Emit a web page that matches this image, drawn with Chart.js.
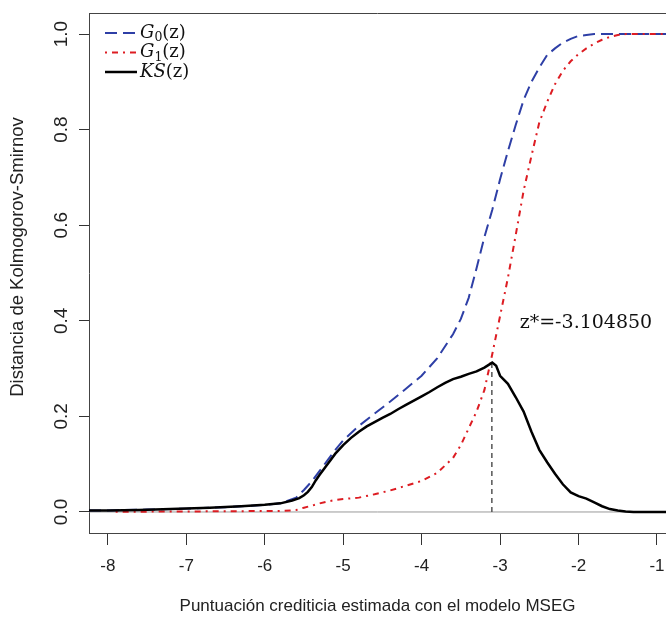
<!DOCTYPE html>
<html>
<head>
<meta charset="utf-8">
<script src="https://cdn.jsdelivr.net/npm/chart.js@4.4.1/dist/chart.umd.min.js"></script>
<style>
  html, body { margin: 0; padding: 0; background: #fff; }
</style>
</head>
<body>
<canvas id="ksChart" width="666" height="617"></canvas>
<script>
// G0(z): distribución acumulada de los buenos
const g0Z = [-8.24, -8.0, -7.5, -7.0, -6.5, -6.0, -5.8, -5.6, -5.5, -5.4, -5.3, -5.2, -5.1, -5.0,
  -4.8, -4.6, -4.4, -4.2, -4.0, -3.8, -3.6, -3.5, -3.4, -3.3, -3.2, -3.1, -3.0, -2.9, -2.8, -2.7,
  -2.6, -2.5, -2.4, -2.3, -2.2, -2.1, -2.0, -1.9, -1.8, -1.5, -1.0, -0.8];
const g0Vals = [0.003, 0.003, 0.005, 0.007, 0.010, 0.015, 0.018, 0.030, 0.046, 0.064, 0.086, 0.108, 0.130, 0.150,
  0.180, 0.206, 0.231, 0.258, 0.285, 0.322, 0.372, 0.404, 0.448, 0.510, 0.575, 0.632, 0.696, 0.755, 0.810, 0.862,
  0.900, 0.930, 0.956, 0.970, 0.982, 0.990, 0.996, 0.998, 1.0, 1.0, 1.0, 1.0];

// G1(z): distribución acumulada de los malos
const g1Z = [-7.9, -7.0, -6.0, -5.8, -5.6, -5.5, -5.4, -5.3, -5.2, -5.1, -5.0, -4.8, -4.6, -4.4, -4.2,
  -4.0, -3.8, -3.6, -3.5, -3.4, -3.3, -3.2, -3.1, -3.0, -2.9, -2.8, -2.7, -2.6, -2.5, -2.4, -2.3,
  -2.2, -2.1, -2.0, -1.9, -1.8, -1.7, -1.6, -1.5, -1.4, -1.0, -0.8];
const g1Vals = [0.0005, 0.001, 0.002, 0.002, 0.004, 0.009, 0.013, 0.018, 0.022, 0.025, 0.027, 0.030, 0.037, 0.045, 0.055,
  0.065, 0.082, 0.113, 0.140, 0.175, 0.210, 0.255, 0.330, 0.410, 0.490, 0.580, 0.672, 0.745, 0.815, 0.858, 0.895,
  0.923, 0.943, 0.958, 0.970, 0.980, 0.988, 0.994, 0.998, 1.0, 1.0, 1.0];

// KS(z) = |G0(z) - G1(z)|
const ksZ = [-8.24, -8.0, -7.6, -7.2, -6.7, -6.3, -6.0, -5.8, -5.65, -5.56, -5.5, -5.45, -5.4, -5.35, -5.3,
  -5.2, -5.1, -5.0, -4.9, -4.8, -4.7, -4.6, -4.5, -4.4, -4.3, -4.2, -4.1, -4.0, -3.9, -3.8, -3.7,
  -3.6, -3.5, -3.4, -3.3, -3.2, -3.1, -3.05, -3.0, -2.9, -2.8, -2.7, -2.6, -2.5, -2.4, -2.3, -2.2,
  -2.1, -2.0, -1.9, -1.8, -1.7, -1.6, -1.5, -1.4, -1.3, -0.8];
const ksVals = [0.003, 0.003, 0.004, 0.006, 0.009, 0.012, 0.015, 0.018, 0.024, 0.029, 0.035, 0.042, 0.052, 0.066, 0.078,
  0.100, 0.122, 0.140, 0.155, 0.168, 0.179, 0.188, 0.197, 0.205, 0.215, 0.224, 0.233, 0.242, 0.251, 0.261, 0.270,
  0.278, 0.283, 0.289, 0.294, 0.302, 0.3125, 0.306, 0.285, 0.268, 0.240, 0.210, 0.168, 0.130, 0.104, 0.080, 0.058,
  0.041, 0.033, 0.028, 0.020, 0.012, 0.006, 0.003, 0.001, 0.0, 0.0];

const zStar = -3.104850;
const ksMax = 0.3125;
const xTicks = [-8, -7, -6, -5, -4, -3, -2, -1];
const yTicks = [0, 0.2, 0.4, 0.6, 0.8, 1.0];
const xRange = [-8.24, -0.885];
const yRange = [-0.044, 1.044];
const yTitle = 'Distancia de Kolmogorov-Smirnov';

const toPts = (zs, vs) => zs.map((z, i) => ({ x: z, y: vs[i] }));

// leyenda, eje y rotado, texto z* y borde superior
const extras = {
  id: 'extras',
  afterDraw(chart) {
    const { ctx, chartArea: a, scales: { x, y } } = chart;
    ctx.save();
    ctx.strokeStyle = '#444';
    ctx.lineWidth = 1;
    ctx.beginPath();
    ctx.moveTo(a.left, a.top + 0.5);
    ctx.lineTo(a.right, a.top + 0.5);
    ctx.stroke();

    ctx.fillStyle = '#222';
    ctx.font = '19px "Liberation Sans"';
    ctx.textAlign = 'center';
    ctx.textBaseline = 'middle';
    y.ticks.forEach(t => {
      ctx.save();
      ctx.translate(a.left - 27, y.getPixelForValue(t.value));
      ctx.rotate(-Math.PI / 2);
      ctx.fillText(t.value.toFixed(1), 0, 0);
      ctx.restore();
    });

    // título del eje y
    ctx.save();
    ctx.font = '18.5px "Liberation Sans"';
    ctx.translate(18, (a.top + a.bottom) / 2 - 16);
    ctx.rotate(-Math.PI / 2);
    ctx.fillText(yTitle, 0, 0);
    ctx.restore();

    ctx.textAlign = 'left';
    ctx.font = '19px "DejaVu Serif"';
    ctx.fillStyle = '#111';
    ctx.fillText('z*=' + zStar.toFixed(6), x.getPixelForValue(-2.75), y.getPixelForValue(0.395));

    chart.data.datasets.slice(0, 3).forEach((ds, i) => {
      const ly = a.top + 20 + i * 19.5;
      ctx.save();
      ctx.strokeStyle = ds.borderColor;
      ctx.lineWidth = ds.borderWidth;
      ctx.setLineDash(ds.borderDash || []);
      ctx.beginPath();
      ctx.moveTo(a.left + 16, ly);
      ctx.lineTo(a.left + 48, ly);
      ctx.stroke();
      ctx.restore();
      const m = ds.label.match(/^([A-Za-z]+)([\u2080-\u2089]*)(.*)$/);
      let tx = a.left + 51;
      ctx.fillStyle = '#111';
      ctx.textBaseline = 'middle';
      ctx.font = 'italic 18px "DejaVu Serif"';
      ctx.fillText(m[1], tx, ly);
      tx += ctx.measureText(m[1]).width;
      if (m[2]) {
        const sub = String(m[2].charCodeAt(0) - 0x2080);
        ctx.font = '12.5px "DejaVu Serif"';
        ctx.fillText(sub, tx, ly + 5);
        tx += ctx.measureText(sub).width;
      }
      ctx.font = '18px "DejaVu Serif"';
      ctx.fillText(m[3], tx, ly);
    });
    ctx.restore();
  }
};

const ctx = document.getElementById('ksChart').getContext('2d');
new Chart(ctx, {
  type: 'line',
  data: {
    datasets: [
      { label: 'G\u2080(z)', data: toPts(g0Z, g0Vals), borderColor: '#2e3fa6', borderWidth: 2,
        borderDash: [12, 6], order: 4 },
      { label: 'G\u2081(z)', data: toPts(g1Z, g1Vals), borderColor: '#dd1c22', borderWidth: 2,
        borderDash: [2, 5, 6, 5], order: 3 },
      { label: 'KS(z)', data: toPts(ksZ, ksVals), borderColor: '#000000', borderWidth: 2.5, order: 1 },
      { label: 'h0', data: [{ x: xRange[0], y: 0 }, { x: xRange[1], y: 0 }], borderColor: '#9a9a9a',
        borderWidth: 1, order: 5 },
      { label: 'zstar', data: [{ x: zStar, y: 0 }, { x: zStar, y: ksMax }], borderColor: '#555555',
        borderWidth: 1.5, borderDash: [5, 4], order: 2 }
    ]
  },
  options: {
    responsive: false,
    animation: false,
    layout: { autoPadding: false, padding: { top: 13, right: 0, left: 0, bottom: 0 } },
    elements: { point: { radius: 0 }, line: { tension: 0, fill: false } },
    plugins: { legend: { display: false }, tooltip: { enabled: false } },
    scales: {
      x: {
        type: 'linear', min: xRange[0], max: xRange[1],
        afterBuildTicks: s => { s.ticks = xTicks.map(v => ({ value: v })); },
        afterFit: s => { s.height = 84; s.paddingLeft = 0; s.paddingRight = 0; },
        grid: { drawOnChartArea: false, tickLength: 12, color: '#333' },
        border: { color: '#444', width: 1 },
        ticks: { font: { family: 'Liberation Sans', size: 17 }, color: '#222', padding: 11,
          maxRotation: 0, callback: v => String(v) },
        title: { display: true, text: 'Puntuación crediticia estimada con el modelo MSEG',
          font: { family: 'Liberation Sans', size: 17 }, color: '#222', padding: { top: 0, bottom: 0 } }
      },
      y: {
        type: 'linear', min: yRange[0], max: yRange[1],
        afterBuildTicks: s => { s.ticks = yTicks.map(v => ({ value: v })); },
        afterFit: s => { s.width = 89; s.paddingTop = 0; s.paddingBottom = 0; },
        grid: { drawOnChartArea: false, tickLength: 10, color: '#333' },
        border: { color: '#444', width: 1 },
        ticks: { color: 'rgba(0,0,0,0)', font: { size: 17 } },
        title: { display: false }
      }
    }
  },
  plugins: [extras]
});
</script>
</body>
</html>
